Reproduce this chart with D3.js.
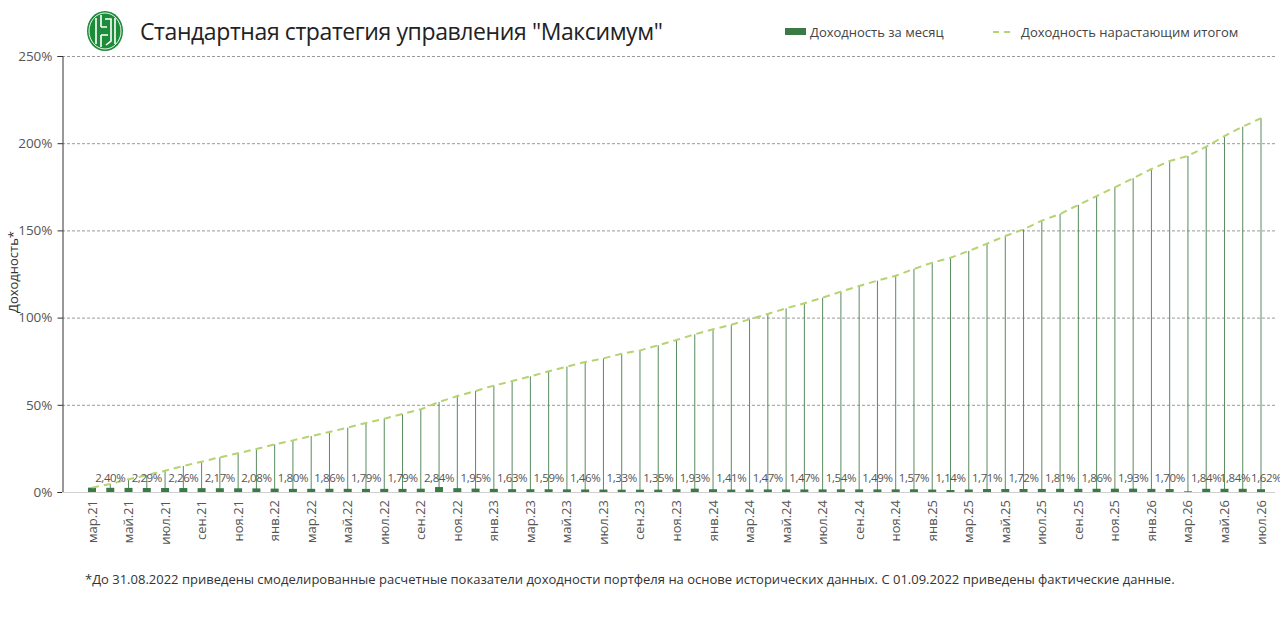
<!DOCTYPE html>
<html>
<head>
<meta charset="utf-8">
<script src="https://cdn.jsdelivr.net/npm/d3@7"></script>
<style>
  body { margin: 0; background: #fff; }
  svg { display: block; font-family: "Open Sans", "Noto Sans", sans-serif; }
</style>
</head>
<body>
<svg id="chart" width="1280" height="630"></svg>
<script>
// months (categories)
var months = [
  "мар.21","апр.21","май.21","июн.21","июл.21","авг.21","сен.21","окт.21","ноя.21","дек.21",
  "янв.22","фев.22","мар.22","апр.22","май.22","июн.22","июл.22","авг.22","сен.22","окт.22","ноя.22","дек.22",
  "янв.23","фев.23","мар.23","апр.23","май.23","июн.23","июл.23","авг.23","сен.23","окт.23","ноя.23","дек.23",
  "янв.24","фев.24","мар.24","апр.24","май.24","июн.24","июл.24","авг.24","сен.24","окт.24","ноя.24","дек.24",
  "янв.25","фев.25","мар.25","апр.25","май.25","июн.25","июл.25","авг.25","сен.25","окт.25","ноя.25","дек.25",
  "янв.26","фев.26","мар.26","апр.26","май.26","июн.26","июл.26"
];
// monthly return, %
var monthly = [
  2.5, 2.40, 2.35, 2.29, 2.28, 2.26, 2.21, 2.17, 2.12, 2.08,
  1.95, 1.80, 1.83, 1.86, 1.82, 1.79, 1.80, 1.79, 1.90, 2.84, 2.20, 1.95,
  1.80, 1.63, 1.60, 1.59, 1.52, 1.46, 1.40, 1.33, 1.34, 1.35, 1.60, 1.93,
  1.60, 1.41, 1.44, 1.47, 1.46, 1.47, 1.50, 1.54, 1.50, 1.49, 1.52, 1.57,
  1.40, 1.14, 1.45, 1.71, 1.70, 1.72, 1.76, 1.81, 1.83, 1.86, 1.90, 1.93,
  1.80, 1.70, 0.40, 1.84, 1.85, 1.84, 1.62
];
// cumulative return, %
var cumulative = [
  2.5, 4.6, 7.3, 9.7, 12.2, 14.9, 17.4, 19.9, 22.2, 24.7,
  27.3, 29.6, 32.1, 34.4, 36.9, 39.6, 42.0, 44.7, 47.4, 51.6, 55.0, 57.9,
  61.0, 63.6, 66.3, 69.2, 71.9, 74.5, 76.6, 79.3, 81.2, 84.1, 87.2, 90.4,
  93.3, 95.9, 99.0, 102.1, 105.3, 108.2, 111.4, 114.9, 118.1, 121.2, 124.0, 127.9,
  131.5, 134.3, 138.2, 142.4, 146.8, 150.6, 155.6, 159.4, 164.6, 169.7, 174.7, 179.9,
  185.2, 189.8, 192.7, 198.0, 204.1, 209.5, 214.3
];
// months that carry a value label
var labelled = [
  "апр.21","июн.21","авг.21","окт.21","дек.21","фев.22","апр.22","июн.22","авг.22","окт.22",
  "дек.22","фев.23","апр.23","июн.23","авг.23","окт.23","дек.23","фев.24","апр.24","июн.24",
  "авг.24","окт.24","дек.24","фев.25","апр.25","июн.25","авг.25","окт.25","дек.25","фев.26",
  "апр.26","июн.26","июл.26"
];
// months shown on the x axis
var xTicks = months.filter(function(d, i) { return i % 2 == 0; });
var yTicks = [0, 50, 100, 150, 200, 250];

var title = "Стандартная стратегия управления \"Максимум\"";
var footnote = "*До 31.08.2022 приведены смоделированные расчетные показатели доходности портфеля на основе исторических данных. С 01.09.2022 приведены фактические данные.";

var data = months.map(function(m, i) {
  return { month: m, value: monthly[i], total: cumulative[i] };
});

var svg = d3.select("#chart");
var plotLeft = 62, plotRight = 1275, plotTop = 56, plotBottom = 492;

var x = d3.scalePoint().domain(months).range([92, 1261]);
var y = d3.scaleLinear().domain([0, 250]).range([plotBottom, plotTop]);

// grid
svg.append("g")
  .selectAll("line")
  .data(yTicks.filter(function(d) { return d > 0; }))
  .enter().append("line")
    .attr("x1", plotLeft).attr("x2", plotRight)
    .attr("y1", function(d) { return y(d) + 0.5; })
    .attr("y2", function(d) { return y(d) + 0.5; })
    .attr("style", "stroke:#9a9a9a; stroke-width:1; stroke-dasharray:3,2;");

// y axis
var yAxis = svg.append("g")
  .attr("transform", "translate(" + (plotLeft + 0.5) + ",0)")
  .call(d3.axisLeft(y).tickValues(yTicks).tickSize(5).tickPadding(5)
    .tickFormat(function(d) { return d + "%"; }));
yAxis.select(".domain").attr("stroke", "#333");
yAxis.selectAll(".tick line").attr("stroke", "#333");
yAxis.selectAll("text")
  .attr("fill", "#555")
  .style("font-size", "13.5px")
  .style("font-family", "\"Open Sans\", sans-serif");

svg.append("text")
  .attr("transform", "translate(18,272) rotate(-90)")
  .attr("text-anchor", "middle")
  .attr("fill", "#333")
  .style("font-size", "13px")
  .text("Доходность*");

// x axis baseline
svg.append("line")
  .attr("x1", plotLeft).attr("x2", plotRight)
  .attr("y1", plotBottom + 0.5).attr("y2", plotBottom + 0.5)
  .attr("style", "stroke:#d0d0d0; stroke-width:1;");

// x labels
svg.append("g")
  .selectAll("text")
  .data(xTicks)
  .enter().append("text")
    .attr("transform", function(d) {
      return "translate(" + (x(d) + 4.5) + "," + (plotBottom + 8) + ") rotate(-90)";
    })
    .attr("text-anchor", "end")
    .attr("fill", "#555")
    .style("font-size", "13px")
    .text(function(d) { return d; });

// drop lines to the cumulative curve
svg.append("g")
  .selectAll("line")
  .data(data)
  .enter().append("line")
    .attr("x1", function(d) { return x(d.month); })
    .attr("x2", function(d) { return x(d.month); })
    .attr("y1", y(0))
    .attr("y2", function(d) { return y(d.total); })
    .attr("style", "stroke:#5a8a60; stroke-width:1;");

// monthly bars
var barW = 8;
svg.append("g")
  .selectAll("rect")
  .data(data)
  .enter().append("rect")
    .attr("x", function(d) { return x(d.month) - barW / 2; })
    .attr("y", function(d) { return y(d.value); })
    .attr("width", barW)
    .attr("height", function(d) { return y(0) - y(d.value); })
    .attr("fill", "#3a7a47");

// cumulative dashed line
var line = d3.line()
  .x(function(d) { return x(d.month); })
  .y(function(d) { return y(d.total); });
svg.append("path")
  .datum(data)
  .attr("d", line)
  .attr("style", "fill:none; stroke:#b6d371; stroke-width:2; stroke-dasharray:7,5;");

// value labels
var labels = svg.append("g")
  .selectAll("text")
  .data(data.filter(function(d) { return labelled.indexOf(d.month) >= 0; }))
  .enter().append("text")
    .attr("x", function(d) { return x(d.month); })
    .attr("y", 482)
    .attr("text-anchor", "middle")
    .attr("fill", "#555")
    .style("font-size", "11.5px")
    .style("letter-spacing", "-0.4px")
    .text(function(d) { return d3.format(".2f")(d.value).replace(".", ",") + "%"; });

// nudge labels that collide apart
var nodes = labels.nodes();
for (var i = 1; i < nodes.length; i++) {
  var a = nodes[i - 1].getBBox(), b = nodes[i].getBBox();
  var over = a.x + a.width + 1 - b.x;
  if (over > 0) {
    d3.select(nodes[i - 1]).attr("x", +nodes[i - 1].getAttribute("x") - over * 0.6);
    d3.select(nodes[i]).attr("x", +nodes[i].getAttribute("x") + over * 0.4);
  }
}

// logo
var logo = svg.append("g").attr("transform", "translate(105,31)");
logo.append("ellipse").attr("rx", 18).attr("ry", 20).attr("fill", "#1d8c3a");
logo.append("ellipse").attr("rx", 16).attr("ry", 18)
  .attr("style", "fill:none; stroke:#e8f3e8; stroke-width:1;");
logo.append("path")
  .attr("d", "M-9,-13 L-9,13 M-4,-16 L-4,-4 M-4,4 L-4,16 M0,-12 L6,-12 L6,10 L1,14 M10,-13 L10,13 M-4,-4 L2,-4 M-4,4 L3,4")
  .attr("style", "fill:none; stroke:#ffffff; stroke-width:1.6;");

// title
svg.append("text")
  .attr("x", 140).attr("y", 40)
  .attr("fill", "#222")
  .style("font-size", "23px")
  .style("letter-spacing", "-0.4px")
  .text(title);

// legend
svg.append("rect")
  .attr("x", 785).attr("y", 28)
  .attr("width", 21).attr("height", 7)
  .attr("fill", "#3a7a47");
svg.append("text")
  .attr("x", 810).attr("y", 37)
  .attr("fill", "#444")
  .style("font-size", "13px")
  .text("Доходность за месяц");
svg.append("line")
  .attr("x1", 993).attr("x2", 1014)
  .attr("y1", 32).attr("y2", 32)
  .attr("style", "stroke:#b6d371; stroke-width:2; stroke-dasharray:6,5;");
svg.append("text")
  .attr("x", 1021).attr("y", 37)
  .attr("fill", "#444")
  .style("font-size", "13px")
  .text("Доходность нарастающим итогом");

// footnote
svg.append("text")
  .attr("x", 85).attr("y", 584)
  .attr("fill", "#333")
  .style("font-size", "13px")
  .text(footnote);
</script>
</body>
</html>
